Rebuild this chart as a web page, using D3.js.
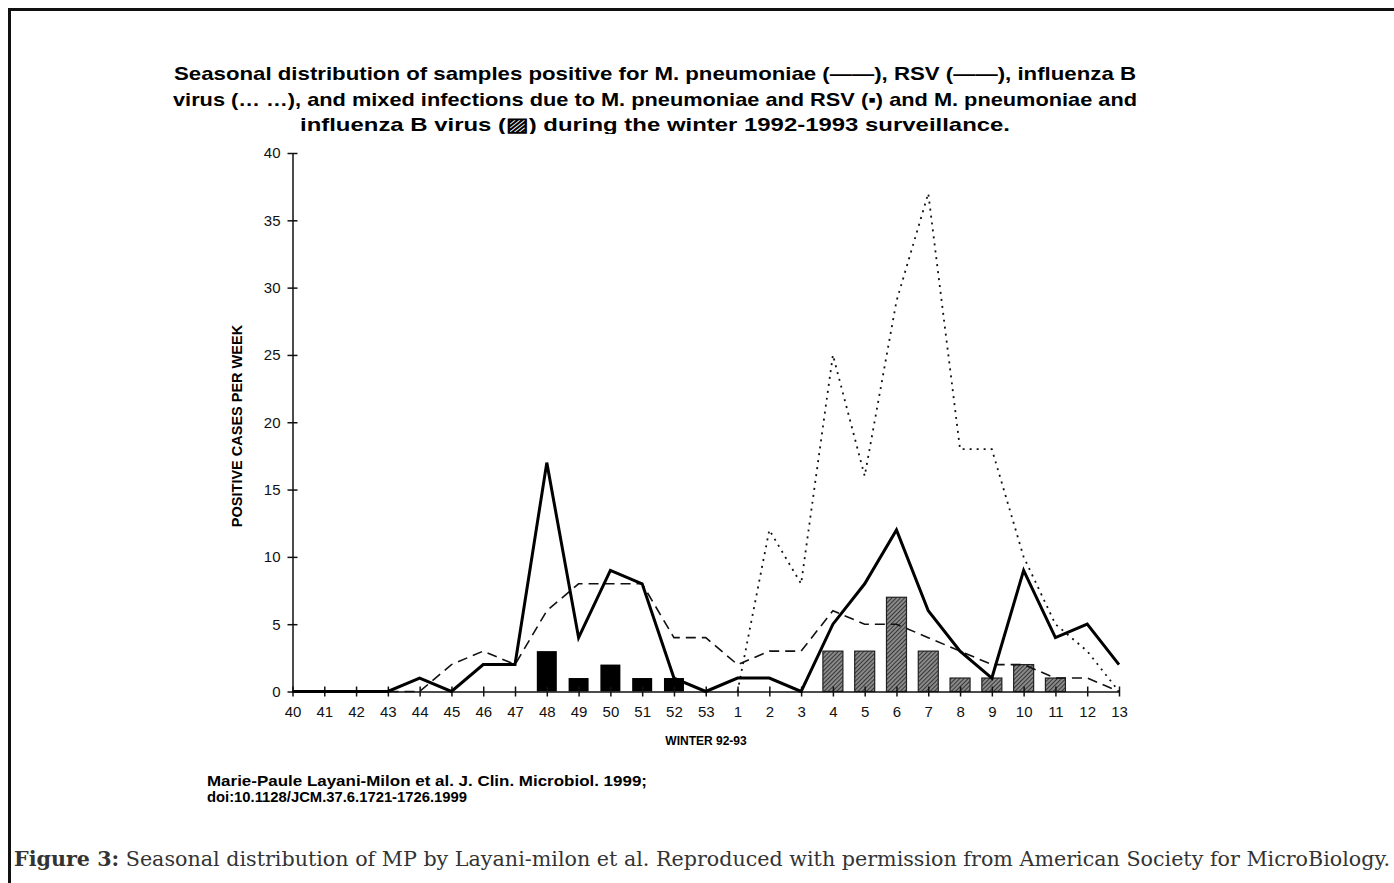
<!DOCTYPE html>
<html>
<head>
<meta charset="utf-8">
<script src="https://cdn.jsdelivr.net/npm/d3@7"></script>
<style>
  body { margin: 0; background: #fff; }
  svg { display: block; }
  .axis text { font-family: "Liberation Sans", Arial, sans-serif; font-size: 15px; fill: #111; }
  .axis path, .axis line { stroke: #111; stroke-width: 1.5px; }
</style>
</head>
<body>
<script>
// week labels, winter 92-93
var weeks = ['40','41','42','43','44','45','46','47','48','49','50','51','52','53',
             '1','2','3','4','5','6','7','8','9','10','11','12','13'];

// positive cases per week
var mPneumoniae = [0,0,0,0,1,0,2,2,17,4,9,8,1,0, 1,1,0,5,8,12,6,3,1,9,4,5,2];
var rsv         = [0,0,0,0,0,2,3,2,6,8,8,8,4,4, 2,3,3,6,5,5,4,3,2,2,1,1,0];
var influenzaB  = [null,null,null,null,null,null,null,null,null,null,null,null,null,null,
                   0,12,8,25,16,29,37,18,18,10,5,3,0];

// mixed infections
var mixRsvWeeks = ['48','49','50','51','52'];
var mixRsv      = [3,1,2,1,1];
var mixFluWeeks = ['4','5','6','7','8','9','10','11'];
var mixFlu      = [3,3,7,3,1,1,2,1];

var yTicks = [0,5,10,15,20,25,30,35,40];

var svgWidth = 1394, svgHeight = 883;

var svg = d3.select('body')
    .append('svg')
    .attr('width', svgWidth)
    .attr('height', svgHeight);

// hatch pattern for the M. pneumoniae + influenza B bars
var defs = svg.append('defs');
var pat = defs.append('pattern')
    .attr('id', 'hatch')
    .attr('patternUnits', 'userSpaceOnUse')
    .attr('width', 3).attr('height', 3)
    .attr('patternTransform', 'rotate(45)');
pat.append('rect').attr('width', 3).attr('height', 3).attr('fill', '#8a8a8a');
pat.append('line').attr('x1', 0).attr('y1', 0).attr('x2', 0).attr('y2', 3)
    .attr('stroke', '#222').attr('stroke-width', 1.6);

defs.append('clipPath').attr('id', 'titleClip')
    .append('rect').attr('x', 0).attr('y', 0).attr('width', svgWidth).attr('height', 134);

// frame (top + left edges)
svg.append('path')
    .attr('d', 'M9.5,' + svgHeight + 'V9.5H' + svgWidth)
    .attr('fill', 'none')
    .attr('stroke', '#111')
    .attr('stroke-width', 3);

// title
var titleLines = [
    'Seasonal distribution of samples positive for M. pneumoniae (\u2014\u2014), RSV (\u2014\u2014), influenza B',
    'virus (\u2026 \u2026), and mixed infections due to M. pneumoniae and RSV (\u25AA) and M. pneumoniae and',
    'influenza B virus (\u25A8) during the winter 1992-1993 surveillance.'
];
var titleWidths = [962, 964, 710];
svg.append('g').attr('clip-path', 'url(#titleClip)')
    .selectAll('text')
    .data(titleLines)
    .enter()
    .append('text')
    .attr('x', 655)
    .attr('y', function(d, i) { return 80 + i * 25.5; })
    .attr('text-anchor', 'middle')
    .attr('textLength', function(d, i) { return titleWidths[i]; })
    .attr('lengthAdjust', 'spacingAndGlyphs')
    .style('font-family', '"Liberation Sans", Arial, sans-serif')
    .style('font-weight', 'bold')
    .style('font-size', '19px')
    .style('fill', '#000')
    .text(function(d) { return d; });

var xScale = d3.scalePoint()
    .domain(weeks)
    .range([292.5, 1119]);

var yScale = d3.scaleLinear()
    .domain([0, 40])
    .range([691.5, 153]);

// bars
var barW = 20;
svg.append('g')
    .selectAll('rect')
    .data(mixRsv)
    .enter()
    .append('rect')
    .attr('x', function(d, i) { return xScale(mixRsvWeeks[i]) - barW / 2; })
    .attr('y', function(d) { return yScale(d); })
    .attr('width', barW)
    .attr('height', function(d) { return yScale(0) - yScale(d); })
    .attr('fill', '#000');

svg.append('g')
    .selectAll('rect')
    .data(mixFlu)
    .enter()
    .append('rect')
    .attr('x', function(d, i) { return xScale(mixFluWeeks[i]) - barW / 2; })
    .attr('y', function(d) { return yScale(d); })
    .attr('width', barW)
    .attr('height', function(d) { return yScale(0) - yScale(d); })
    .attr('fill', 'url(#hatch)')
    .attr('stroke', '#222')
    .attr('stroke-width', 1.2);

// axes
var yAxis = svg.append('g')
    .attr('class', 'axis')
    .attr('transform', 'translate(292.5,0)')
    .call(d3.axisLeft(yScale).tickValues(yTicks).tickSizeInner(5).tickSizeOuter(0).tickPadding(7));
yAxis.selectAll('.tick line').attr('x1', 5);

var xAxis = svg.append('g')
    .attr('class', 'axis')
    .attr('transform', 'translate(0,691.5)')
    .call(d3.axisBottom(xScale).tickSizeInner(5).tickSizeOuter(0).tickPadding(10));
xAxis.selectAll('.tick line').attr('y1', -5);

// lines
var line = d3.line()
    .defined(function(d) { return d != null; })
    .x(function(d, i) { return xScale(weeks[i]); })
    .y(function(d) { return yScale(d); });

svg.append('path')
    .datum(influenzaB)
    .attr('fill', 'none')
    .attr('stroke', '#111')
    .attr('stroke-width', 1.8)
    .attr('stroke-dasharray', '2,5')
    .attr('d', line);

svg.append('path')
    .datum(rsv)
    .attr('fill', 'none')
    .attr('stroke', '#111')
    .attr('stroke-width', 1.6)
    .attr('stroke-dasharray', '10,6')
    .attr('d', line);

svg.append('path')
    .datum(mPneumoniae)
    .attr('fill', 'none')
    .attr('stroke', '#000')
    .attr('stroke-width', 3)
    .attr('stroke-linejoin', 'miter')
    .attr('d', line);

// axis titles
svg.append('text')
    .attr('x', 706)
    .attr('y', 745)
    .attr('text-anchor', 'middle')
    .style('font-family', '"Liberation Sans", Arial, sans-serif')
    .style('font-weight', 'bold')
    .style('font-size', '12px')
    .text('WINTER 92-93');

svg.append('text')
    .attr('transform', 'translate(242,426) rotate(-90)')
    .attr('text-anchor', 'middle')
    .style('font-family', '"Liberation Sans", Arial, sans-serif')
    .style('font-weight', 'bold')
    .style('font-size', '14.5px')
    .text('POSITIVE CASES PER WEEK');

// source
var sourceLines = [
    'Marie-Paule Layani-Milon et al. J. Clin. Microbiol. 1999;',
    'doi:10.1128/JCM.37.6.1721-1726.1999'
];
var sourceWidths = [440, 260];
svg.selectAll('.src')
    .data(sourceLines)
    .enter()
    .append('text')
    .attr('class', 'src')
    .attr('x', 207)
    .attr('y', function(d, i) { return 786 + i * 16; })
    .attr('textLength', function(d, i) { return sourceWidths[i]; })
    .attr('lengthAdjust', 'spacingAndGlyphs')
    .style('font-family', '"Liberation Sans", Arial, sans-serif')
    .style('font-weight', 'bold')
    .style('font-size', '14.5px')
    .text(function(d) { return d; });

// caption
var cap = svg.append('text')
    .attr('x', 14)
    .attr('y', 866)
    .attr('textLength', 1376)
    .attr('lengthAdjust', 'spacingAndGlyphs')
    .style('font-family', '"DejaVu Serif", Georgia, serif')
    .style('font-size', '19.5px')
    .style('fill', '#333');
cap.append('tspan').style('font-weight', 'bold').text('Figure 3:');
cap.append('tspan').text(' Seasonal distribution of MP by Layani-milon et al. Reproduced with permission from American Society for MicroBiology.');
</script>
</body>
</html>
